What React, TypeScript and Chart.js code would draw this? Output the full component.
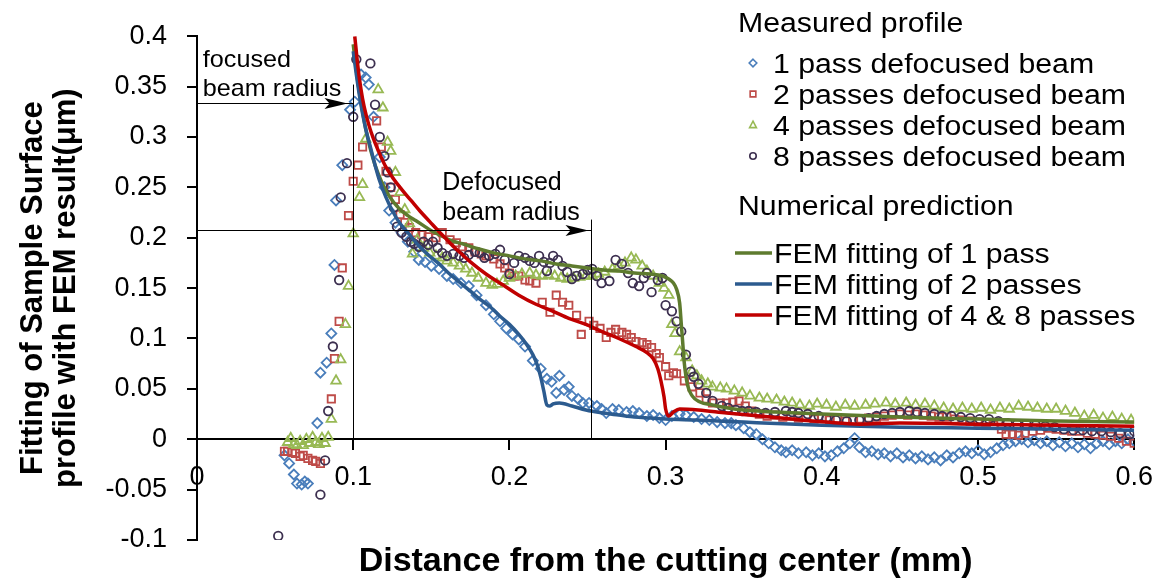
import React, { useEffect, useRef } from 'react';
import { Chart, registerables } from 'chart.js';

Chart.register(...registerables);

// ---------- Data (x: mm, y: µm) ----------
const pass1Measured: [number, number][] = [
  [0.056, -0.016], [0.059, -0.024], [0.062, -0.035], [0.064, -0.044], [0.067, -0.045], [0.069, -0.042],
  [0.071, -0.044], [0.077, 0.016], [0.079, 0.066], [0.083, 0.076], [0.086, 0.105], [0.088, 0.173],
  [0.089, 0.237], [0.093, 0.272], [0.098, 0.327], [0.101, 0.335], [0.105, 0.362], [0.108, 0.359],
  [0.110, 0.352], [0.113, 0.320], [0.117, 0.280], [0.120, 0.250], [0.123, 0.227], [0.127, 0.215],
  [0.131, 0.205], [0.135, 0.196], [0.139, 0.186], [0.142, 0.178], [0.146, 0.176], [0.150, 0.172],
  [0.155, 0.169], [0.160, 0.162], [0.164, 0.159], [0.169, 0.155], [0.174, 0.152], [0.179, 0.143],
  [0.185, 0.133], [0.190, 0.124], [0.194, 0.117], [0.198, 0.110], [0.202, 0.104], [0.206, 0.099],
  [0.210, 0.092], [0.215, 0.078], [0.220, 0.070], [0.224, 0.060], [0.227, 0.057], [0.230, 0.046],
  [0.232, 0.063], [0.235, 0.049], [0.238, 0.052], [0.240, 0.043], [0.244, 0.040], [0.247, 0.036],
  [0.251, 0.036], [0.256, 0.033], [0.259, 0.030], [0.262, 0.026], [0.266, 0.030], [0.270, 0.029],
  [0.275, 0.027], [0.279, 0.028], [0.283, 0.026], [0.288, 0.023], [0.292, 0.024], [0.296, 0.021],
  [0.300, 0.019], [0.304, 0.023], [0.309, 0.025], [0.313, 0.024], [0.318, 0.022], [0.323, 0.020],
  [0.328, 0.019], [0.333, 0.017], [0.338, 0.016], [0.342, 0.016], [0.345, 0.014], [0.350, 0.011],
  [0.354, 0.007], [0.358, 0.005], [0.362, 0.000], [0.366, -0.004], [0.370, -0.008], [0.374, -0.011],
  [0.377, -0.013], [0.381, -0.011], [0.385, -0.014], [0.390, -0.013], [0.394, -0.016], [0.398, -0.014],
  [0.402, -0.017], [0.406, -0.016], [0.410, -0.012], [0.414, -0.009], [0.418, -0.004], [0.421, 0.001],
  [0.424, -0.008], [0.428, -0.013], [0.432, -0.012], [0.436, -0.015], [0.440, -0.014], [0.444, -0.017],
  [0.448, -0.014], [0.452, -0.018], [0.456, -0.016], [0.460, -0.019], [0.464, -0.017], [0.468, -0.020],
  [0.472, -0.018], [0.476, -0.021], [0.480, -0.016], [0.484, -0.018], [0.488, -0.014], [0.492, -0.012],
  [0.496, -0.014], [0.500, -0.011], [0.504, -0.015], [0.508, -0.013], [0.512, -0.009], [0.516, -0.006],
  [0.520, -0.004], [0.524, -0.002], [0.528, 0.000], [0.532, -0.003], [0.536, -0.001], [0.540, -0.004],
  [0.544, -0.002], [0.548, -0.006], [0.552, -0.003], [0.556, -0.007], [0.560, -0.004], [0.564, -0.008],
  [0.568, -0.005], [0.572, -0.009], [0.576, -0.004], [0.580, -0.002], [0.584, -0.005], [0.588, -0.002],
  [0.592, -0.004], [0.596, 0.000], [0.600, -0.002],
];

const pass2Measured: [number, number][] = [
  [0.056, -0.012], [0.058, -0.012], [0.061, -0.013], [0.063, -0.014], [0.066, -0.017], [0.068, -0.016],
  [0.071, -0.019], [0.074, -0.021], [0.076, -0.022], [0.079, -0.024], [0.086, 0.040], [0.088, 0.080],
  [0.091, 0.117], [0.093, 0.170], [0.097, 0.222], [0.100, 0.256], [0.103, 0.272], [0.106, 0.290],
  [0.115, 0.316], [0.118, 0.290], [0.121, 0.266], [0.124, 0.250], [0.127, 0.238], [0.130, 0.223],
  [0.133, 0.215], [0.136, 0.210], [0.140, 0.205], [0.144, 0.203], [0.148, 0.201], [0.153, 0.200],
  [0.157, 0.205], [0.162, 0.198], [0.166, 0.195], [0.170, 0.191], [0.174, 0.190], [0.178, 0.186],
  [0.182, 0.184], [0.185, 0.182], [0.190, 0.179], [0.194, 0.174], [0.197, 0.170], [0.200, 0.165],
  [0.203, 0.162], [0.206, 0.162], [0.210, 0.158], [0.213, 0.157], [0.217, 0.155], [0.221, 0.136],
  [0.226, 0.126], [0.230, 0.143], [0.234, 0.136], [0.238, 0.133], [0.243, 0.123], [0.246, 0.104],
  [0.251, 0.117], [0.254, 0.113], [0.258, 0.110], [0.262, 0.101], [0.265, 0.106], [0.268, 0.109],
  [0.272, 0.106], [0.275, 0.104], [0.278, 0.101], [0.281, 0.097], [0.285, 0.096], [0.288, 0.094],
  [0.291, 0.091], [0.294, 0.085], [0.296, 0.081], [0.300, 0.072], [0.302, 0.063], [0.305, 0.066],
  [0.307, 0.065], [0.312, 0.058], [0.317, 0.052], [0.322, 0.046], [0.326, 0.040], [0.330, 0.036],
  [0.335, 0.036], [0.339, 0.036], [0.343, 0.037], [0.347, 0.038], [0.351, 0.033], [0.355, 0.028],
  [0.360, 0.025], [0.365, 0.023], [0.370, 0.024], [0.375, 0.022], [0.380, 0.023], [0.385, 0.021],
  [0.390, 0.022], [0.395, 0.020], [0.400, 0.021], [0.405, 0.019], [0.410, 0.020], [0.415, 0.018],
  [0.420, 0.019], [0.425, 0.020], [0.430, 0.021], [0.435, 0.022], [0.440, 0.023], [0.445, 0.024],
  [0.450, 0.025], [0.455, 0.024], [0.460, 0.025], [0.465, 0.024], [0.470, 0.023], [0.475, 0.022],
  [0.480, 0.022], [0.485, 0.020], [0.490, 0.019], [0.495, 0.018], [0.500, 0.017], [0.505, 0.016],
  [0.510, 0.014], [0.515, 0.010], [0.518, 0.005], [0.522, 0.005], [0.526, 0.004], [0.530, 0.006],
  [0.535, 0.008], [0.540, 0.009], [0.545, 0.011], [0.550, 0.010], [0.555, 0.009], [0.560, 0.008],
  [0.565, 0.008], [0.570, 0.006], [0.575, 0.005], [0.580, 0.004], [0.585, 0.003], [0.590, 0.001],
  [0.595, -0.002], [0.600, -0.004],
];

const pass4Measured: [number, number][] = [
  [0.058, -0.003], [0.060, 0.001], [0.062, -0.005], [0.064, -0.006], [0.066, -0.002], [0.068, -0.006],
  [0.070, 0.000], [0.072, -0.004], [0.074, 0.002], [0.076, -0.003], [0.078, -0.005], [0.080, 0.001],
  [0.082, -0.004], [0.084, 0.002], [0.086, 0.020], [0.089, 0.058], [0.092, 0.079], [0.095, 0.114],
  [0.097, 0.152], [0.100, 0.204], [0.104, 0.240], [0.106, 0.253], [0.108, 0.298], [0.116, 0.347],
  [0.119, 0.329], [0.122, 0.295], [0.124, 0.286], [0.127, 0.265], [0.130, 0.245], [0.133, 0.228],
  [0.136, 0.214], [0.138, 0.184], [0.141, 0.198], [0.145, 0.190], [0.149, 0.185], [0.153, 0.182],
  [0.157, 0.180], [0.160, 0.177], [0.164, 0.175], [0.168, 0.172], [0.172, 0.169], [0.176, 0.165],
  [0.180, 0.160], [0.185, 0.155], [0.189, 0.153], [0.192, 0.154], [0.196, 0.157], [0.200, 0.160],
  [0.204, 0.162], [0.208, 0.164], [0.213, 0.165], [0.217, 0.163], [0.221, 0.162], [0.225, 0.163],
  [0.229, 0.162], [0.233, 0.160], [0.237, 0.159], [0.241, 0.160], [0.245, 0.161], [0.249, 0.162],
  [0.253, 0.162], [0.257, 0.164], [0.261, 0.166], [0.266, 0.169], [0.270, 0.172], [0.274, 0.175],
  [0.278, 0.180], [0.281, 0.178], [0.285, 0.172], [0.288, 0.167], [0.292, 0.162], [0.296, 0.155],
  [0.299, 0.150], [0.302, 0.143], [0.304, 0.114], [0.306, 0.105], [0.309, 0.087], [0.313, 0.081],
  [0.317, 0.068], [0.320, 0.063], [0.323, 0.058], [0.327, 0.055], [0.330, 0.052], [0.335, 0.051],
  [0.339, 0.050], [0.344, 0.048], [0.349, 0.046], [0.354, 0.043], [0.360, 0.041], [0.365, 0.040],
  [0.371, 0.039], [0.376, 0.037], [0.381, 0.036], [0.386, 0.034], [0.392, 0.033], [0.397, 0.035],
  [0.403, 0.034], [0.409, 0.032], [0.415, 0.034], [0.421, 0.033], [0.428, 0.034], [0.434, 0.035],
  [0.441, 0.036], [0.447, 0.035], [0.454, 0.036], [0.460, 0.034], [0.466, 0.035], [0.472, 0.033],
  [0.478, 0.031], [0.484, 0.030], [0.490, 0.031], [0.496, 0.030], [0.502, 0.031], [0.508, 0.029],
  [0.514, 0.031], [0.520, 0.030], [0.526, 0.033], [0.532, 0.032], [0.538, 0.031], [0.544, 0.030],
  [0.550, 0.030], [0.556, 0.028], [0.562, 0.026], [0.568, 0.023], [0.574, 0.024], [0.580, 0.021],
  [0.586, 0.022], [0.592, 0.020], [0.598, 0.019],
];

const pass8Measured: [number, number][] = [
  [0.052, -0.096], [0.079, -0.055], [0.082, -0.021], [0.084, 0.028], [0.087, 0.092], [0.091, 0.158],
  [0.092, 0.240], [0.096, 0.274], [0.100, 0.320], [0.102, 0.377], [0.111, 0.373], [0.114, 0.332],
  [0.117, 0.300], [0.120, 0.281], [0.122, 0.265], [0.124, 0.250], [0.126, 0.230], [0.128, 0.211],
  [0.131, 0.205], [0.134, 0.201], [0.137, 0.196], [0.139, 0.194], [0.142, 0.191], [0.145, 0.196],
  [0.148, 0.193], [0.151, 0.196], [0.154, 0.190], [0.157, 0.185], [0.160, 0.182], [0.164, 0.184],
  [0.168, 0.182], [0.171, 0.180], [0.174, 0.183], [0.178, 0.186], [0.181, 0.185], [0.184, 0.180],
  [0.187, 0.182], [0.191, 0.184], [0.194, 0.188], [0.197, 0.178], [0.200, 0.164], [0.203, 0.175],
  [0.206, 0.182], [0.210, 0.180], [0.213, 0.177], [0.216, 0.175], [0.219, 0.182], [0.222, 0.176],
  [0.224, 0.167], [0.226, 0.175], [0.228, 0.182], [0.231, 0.178], [0.234, 0.172], [0.237, 0.166],
  [0.240, 0.159], [0.243, 0.162], [0.247, 0.164], [0.250, 0.168], [0.253, 0.169], [0.256, 0.162],
  [0.259, 0.155], [0.264, 0.157], [0.268, 0.178], [0.272, 0.174], [0.276, 0.165], [0.279, 0.155],
  [0.283, 0.152], [0.286, 0.160], [0.288, 0.165], [0.291, 0.146], [0.295, 0.158], [0.298, 0.160],
  [0.300, 0.133], [0.304, 0.127], [0.307, 0.117], [0.310, 0.107], [0.313, 0.084], [0.316, 0.067],
  [0.318, 0.062], [0.321, 0.055], [0.326, 0.046], [0.330, 0.038], [0.336, 0.033], [0.340, 0.031],
  [0.345, 0.029], [0.349, 0.028], [0.353, 0.028], [0.358, 0.027], [0.364, 0.026], [0.370, 0.027],
  [0.377, 0.028], [0.381, 0.027], [0.385, 0.026], [0.391, 0.025], [0.398, 0.023], [0.403, 0.021],
  [0.409, 0.019], [0.416, 0.018], [0.424, 0.019], [0.430, 0.021], [0.435, 0.023], [0.440, 0.025],
  [0.445, 0.026], [0.450, 0.027], [0.456, 0.028], [0.461, 0.027], [0.466, 0.026], [0.472, 0.025],
  [0.477, 0.023], [0.483, 0.023], [0.489, 0.022], [0.495, 0.021], [0.501, 0.020], [0.507, 0.020],
  [0.513, 0.018], [0.519, 0.016], [0.525, 0.015], [0.531, 0.015], [0.537, 0.014], [0.543, 0.013],
  [0.549, 0.012], [0.555, 0.010], [0.561, 0.009], [0.567, 0.009], [0.573, 0.008], [0.579, 0.008],
  [0.585, 0.007], [0.591, 0.006], [0.597, 0.005], [0.600, 0.008],
];

const fem1Pass: [number, number][] = [
  [0.100, 0.392], [0.102, 0.366], [0.104, 0.344], [0.106, 0.325], [0.108, 0.308], [0.111, 0.288],
  [0.114, 0.272], [0.118, 0.256], [0.122, 0.244], [0.126, 0.235], [0.130, 0.228], [0.135, 0.222],
  [0.140, 0.217], [0.145, 0.212], [0.150, 0.207], [0.155, 0.203], [0.160, 0.199], [0.165, 0.196],
  [0.170, 0.194], [0.180, 0.189], [0.190, 0.185], [0.200, 0.182], [0.210, 0.179], [0.220, 0.177],
  [0.230, 0.174], [0.240, 0.172], [0.250, 0.170], [0.260, 0.168], [0.270, 0.167], [0.280, 0.165],
  [0.290, 0.164], [0.298, 0.162], [0.302, 0.159], [0.305, 0.155], [0.307, 0.149], [0.309, 0.135],
  [0.310, 0.115], [0.311, 0.095], [0.312, 0.075], [0.314, 0.054], [0.317, 0.043], [0.322, 0.037],
  [0.330, 0.034], [0.340, 0.031], [0.350, 0.029], [0.370, 0.027], [0.400, 0.025], [0.450, 0.022],
  [0.500, 0.020], [0.550, 0.018], [0.600, 0.017],
];

const fem2Passes: [number, number][] = [
  [0.100, 0.385], [0.102, 0.362], [0.104, 0.341], [0.106, 0.323], [0.108, 0.308], [0.111, 0.290],
  [0.114, 0.272], [0.117, 0.256], [0.121, 0.240], [0.125, 0.227], [0.130, 0.214], [0.135, 0.205],
  [0.142, 0.192], [0.148, 0.183], [0.155, 0.174], [0.161, 0.165], [0.168, 0.156], [0.175, 0.147],
  [0.181, 0.139], [0.188, 0.131], [0.194, 0.122], [0.200, 0.114], [0.206, 0.104], [0.211, 0.094],
  [0.215, 0.084], [0.218, 0.073], [0.220, 0.062], [0.222, 0.048], [0.224, 0.034], [0.226, 0.033],
  [0.228, 0.035], [0.232, 0.036], [0.240, 0.033], [0.249, 0.029], [0.260, 0.026], [0.270, 0.024],
  [0.280, 0.022], [0.291, 0.021], [0.300, 0.020], [0.320, 0.019], [0.350, 0.017], [0.400, 0.014],
  [0.450, 0.012], [0.500, 0.011], [0.550, 0.010], [0.600, 0.009],
];

const fem4and8Passes: [number, number][] = [
  [0.101, 0.400], [0.103, 0.370], [0.105, 0.347], [0.107, 0.330], [0.110, 0.312], [0.113, 0.298],
  [0.117, 0.283], [0.121, 0.270], [0.126, 0.258], [0.131, 0.248], [0.137, 0.237], [0.143, 0.226],
  [0.149, 0.216], [0.155, 0.206], [0.160, 0.198], [0.165, 0.190], [0.170, 0.183], [0.175, 0.176],
  [0.185, 0.164], [0.196, 0.153], [0.206, 0.143], [0.217, 0.134], [0.228, 0.127], [0.238, 0.120],
  [0.249, 0.114], [0.259, 0.107], [0.270, 0.100], [0.281, 0.092], [0.288, 0.086], [0.292, 0.080],
  [0.295, 0.070], [0.297, 0.058], [0.299, 0.042], [0.300, 0.030], [0.302, 0.023], [0.305, 0.027],
  [0.309, 0.030], [0.321, 0.029], [0.339, 0.026], [0.360, 0.023], [0.381, 0.020], [0.403, 0.017],
  [0.424, 0.015], [0.450, 0.016], [0.500, 0.015], [0.550, 0.014], [0.600, 0.013],
];

// ---------- Labels ----------
const measuredHeader = 'Measured profile';
const numericalHeader = 'Numerical prediction';
const measuredLabels = [
  '1 pass defocused beam',
  '2 passes defocused beam',
  '4 passes defocused beam',
  '8 passes defocused beam',
];
const femLabels = ['FEM fitting of 1 pass', 'FEM fitting of 2 passes', 'FEM fitting of 4 & 8 passes'];
const xAxisTitle = 'Distance from the cutting center (mm)';
const yAxisTitle = ['Fitting of Sample Surface', 'profile with FEM result(μm)'];
const focusedText = ['focused', 'beam radius'];
const defocusedText = ['Defocused', 'beam radius'];

// annotation values (data units)
const focusedRadius = 0.1;
const focusedArrowY = 0.334;
const focusedLineTop = 0.352;
const defocusedRadius = 0.252;
const defocusedArrowY = 0.208;
const defocusedLineTop = 0.218;

// ---------- Styles ----------
const FONT = "'Liberation Sans', Arial, sans-serif";
const markerColors = ['#4A7EBB', '#BE4B48', '#98B954', '#3D3050'];
const markerStyles = ['rectRot', 'rect', 'triangle', 'circle'];
const markerRadius = [5, 5.2, 5.5, 4.3];
const femColors = ['#5E7B2E', '#2C5B8F', '#C00000'];

const toPts = (arr: [number, number][]) => arr.map(([x, y]) => ({ x, y }));

function drawLegendMarker(ctx: CanvasRenderingContext2D, style: string, cx: number, cy: number, r: number, color: string) {
  ctx.beginPath();
  if (style === 'rectRot') {
    ctx.moveTo(cx, cy - r);
    ctx.lineTo(cx + r, cy);
    ctx.lineTo(cx, cy + r);
    ctx.lineTo(cx - r, cy);
    ctx.closePath();
  } else if (style === 'rect') {
    ctx.rect(cx - r * 0.75, cy - r * 0.75, r * 1.5, r * 1.5);
  } else if (style === 'triangle') {
    ctx.moveTo(cx, cy - r);
    ctx.lineTo(cx + r * 0.9, cy + r * 0.7);
    ctx.lineTo(cx - r * 0.9, cy + r * 0.7);
    ctx.closePath();
  } else {
    ctx.arc(cx, cy, r * 0.85, 0, Math.PI * 2);
  }
  ctx.strokeStyle = color;
  ctx.lineWidth = 1.6;
  ctx.stroke();
}

function stretchText(ctx: CanvasRenderingContext2D, text: string, x: number, y: number, sx: number) {
  ctx.save();
  ctx.translate(x, y);
  ctx.scale(sx, 1);
  ctx.fillText(text, 0, 0);
  ctx.restore();
}

function arrowHead(ctx: CanvasRenderingContext2D, tipX: number, y: number) {
  ctx.beginPath();
  ctx.moveTo(tipX, y);
  ctx.lineTo(tipX - 23, y - 5.5);
  ctx.lineTo(tipX - 18, y);
  ctx.lineTo(tipX - 23, y + 5.5);
  ctx.closePath();
  ctx.fill();
}

const annotationPlugin = {
  id: 'beamAnnotations',
  afterDatasetsDraw(chart: any) {
    const { ctx, scales } = chart;
    const xs = scales.x;
    const ys = scales.y;
    const left = chart.chartArea.left;
    const y0 = ys.getPixelForValue(0);
    ctx.save();
    ctx.strokeStyle = '#000';
    ctx.fillStyle = '#000';
    ctx.lineWidth = 1;

    // focused beam radius
    const fx = Math.round(xs.getPixelForValue(focusedRadius)) + 0.5;
    const fy = Math.round(ys.getPixelForValue(focusedArrowY)) + 0.5;
    ctx.beginPath();
    ctx.moveTo(fx, ys.getPixelForValue(focusedLineTop));
    ctx.lineTo(fx, y0);
    ctx.moveTo(left, fy);
    ctx.lineTo(fx, fy);
    ctx.stroke();
    arrowHead(ctx, fx - 6, fy);

    // defocused beam radius
    const dx = Math.round(xs.getPixelForValue(defocusedRadius)) + 0.5;
    const dy = Math.round(ys.getPixelForValue(defocusedArrowY)) + 0.5;
    ctx.beginPath();
    ctx.moveTo(dx, ys.getPixelForValue(defocusedLineTop));
    ctx.lineTo(dx, y0);
    ctx.moveTo(left, dy);
    ctx.lineTo(dx, dy);
    ctx.stroke();
    arrowHead(ctx, dx - 3, dy);

    ctx.font = `24px ${FONT}`;
    ctx.textAlign = 'left';
    ctx.textBaseline = 'alphabetic';
    stretchText(ctx, focusedText[0], xs.getPixelForValue(0.0037), ys.getPixelForValue(0.369), 1.05);
    stretchText(ctx, focusedText[1], xs.getPixelForValue(0.0037), ys.getPixelForValue(0.341), 1.05);
    ctx.font = `25px ${FONT}`;
    stretchText(ctx, defocusedText[0], xs.getPixelForValue(0.157), ys.getPixelForValue(0.247), 1.0);
    stretchText(ctx, defocusedText[1], xs.getPixelForValue(0.157), ys.getPixelForValue(0.218), 1.0);
    ctx.restore();
  },
  afterDraw(chart: any) {
    const ctx: CanvasRenderingContext2D = chart.ctx;
    ctx.save();
    ctx.fillStyle = '#000';
    ctx.textAlign = 'left';
    ctx.textBaseline = 'alphabetic';
    ctx.font = `27px ${FONT}`;
    const sx = 1.12;
    stretchText(ctx, measuredHeader, 738, 32, sx);
    measuredLabels.forEach((lab, i) => {
      const base = 73 + i * 31;
      drawLegendMarker(ctx, markerStyles[i], 753, base - 10, 3.8, markerColors[i]);
      stretchText(ctx, lab, 773, base, sx);
    });
    stretchText(ctx, numericalHeader, 738, 215, sx);
    femLabels.forEach((lab, i) => {
      const base = 263 + i * 31;
      ctx.strokeStyle = femColors[i];
      ctx.lineWidth = 3.5;
      ctx.beginPath();
      ctx.moveTo(735, base - 10);
      ctx.lineTo(772, base - 10);
      ctx.stroke();
      stretchText(ctx, lab, 774, base, sx);
    });
    ctx.restore();
  },
};

const fmt = (v: number | string) => String(Math.round(Number(v) * 100) / 100);

export default function App() {
  const canvasRef = useRef<HTMLCanvasElement | null>(null);

  useEffect(() => {
    if (!canvasRef.current) return;
    Chart.defaults.font.family = FONT;
    Chart.defaults.color = '#000';

    const measured = [pass1Measured, pass2Measured, pass4Measured, pass8Measured];
    const fems = [fem1Pass, fem2Passes, fem4and8Passes];

    const datasets: any[] = [];
    // FEM lines on top (lower order is drawn last)
    const femOrder = [2, 1, 0];
    fems.forEach((d, i) => {
      datasets.push({
        type: 'scatter',
        label: femLabels[i],
        data: toPts(d),
        showLine: true,
        borderColor: femColors[i],
        backgroundColor: femColors[i],
        borderWidth: 3.5,
        pointRadius: 0,
        cubicInterpolationMode: 'monotone',
        order: femOrder[i],
      });
    });
    measured.forEach((d, i) => {
      datasets.push({
        type: 'scatter',
        label: measuredLabels[i],
        data: toPts(d),
        showLine: false,
        pointStyle: markerStyles[i],
        pointRadius: markerRadius[i],
        pointBorderWidth: 1.8,
        borderColor: markerColors[i],
        backgroundColor: 'rgba(255,255,255,0)',
        order: 6 - i,
      });
    });

    const chart = new Chart(canvasRef.current, {
      type: 'scatter',
      data: { datasets },
      options: {
        responsive: false,
        animation: false,
        events: [],
        layout: { padding: { top: 25, right: 29, left: 0, bottom: 0 } },
        plugins: {
          legend: { display: false },
          tooltip: { enabled: false },
          title: {
            display: true,
            position: 'bottom',
            fullSize: false,
            text: xAxisTitle,
            color: '#000',
            font: { size: 34, weight: 'bold', lineHeight: 1.2, family: FONT },
            padding: { top: 1.5, bottom: 0.7 },
          },
        },
        scales: {
          x: {
            type: 'linear',
            min: 0,
            max: 0.6,
            position: { y: 0 } as any,
            ticks: { stepSize: 0.1, font: { size: 27 }, padding: 12, color: '#000', callback: (v: any) => fmt(v) },
            grid: { display: true, drawOnChartArea: false, drawTicks: true, tickLength: 10, color: '#000', lineWidth: 2 },
            border: { display: true, color: '#000', width: 2 },
          },
          y: {
            type: 'linear',
            min: -0.1,
            max: 0.4,
            position: 'left',
            ticks: { stepSize: 0.05, font: { size: 27 }, padding: 20, color: '#000', callback: (v: any) => fmt(v) },
            grid: { display: true, drawOnChartArea: false, drawTicks: true, tickLength: 10, color: '#000', lineWidth: 2 },
            border: { display: true, color: '#000', width: 2 },
            title: {
              display: true,
              text: yAxisTitle,
              color: '#000',
              font: { size: 31, weight: 'bold', lineHeight: 1.06, family: FONT },
              padding: { top: 17.5, bottom: 0 },
            },
            afterFit: (scale: any) => {
              scale.width = 197;
            },
          },
        },
      },
      plugins: [annotationPlugin],
    } as any);

    return () => chart.destroy();
  }, []);

  return (
    <div style={{ position: 'fixed', left: 0, top: 0, width: 1165, height: 583, background: '#fff' }}>
      <canvas ref={canvasRef} width={1165} height={583} style={{ display: 'block' }} />
    </div>
  );
}
